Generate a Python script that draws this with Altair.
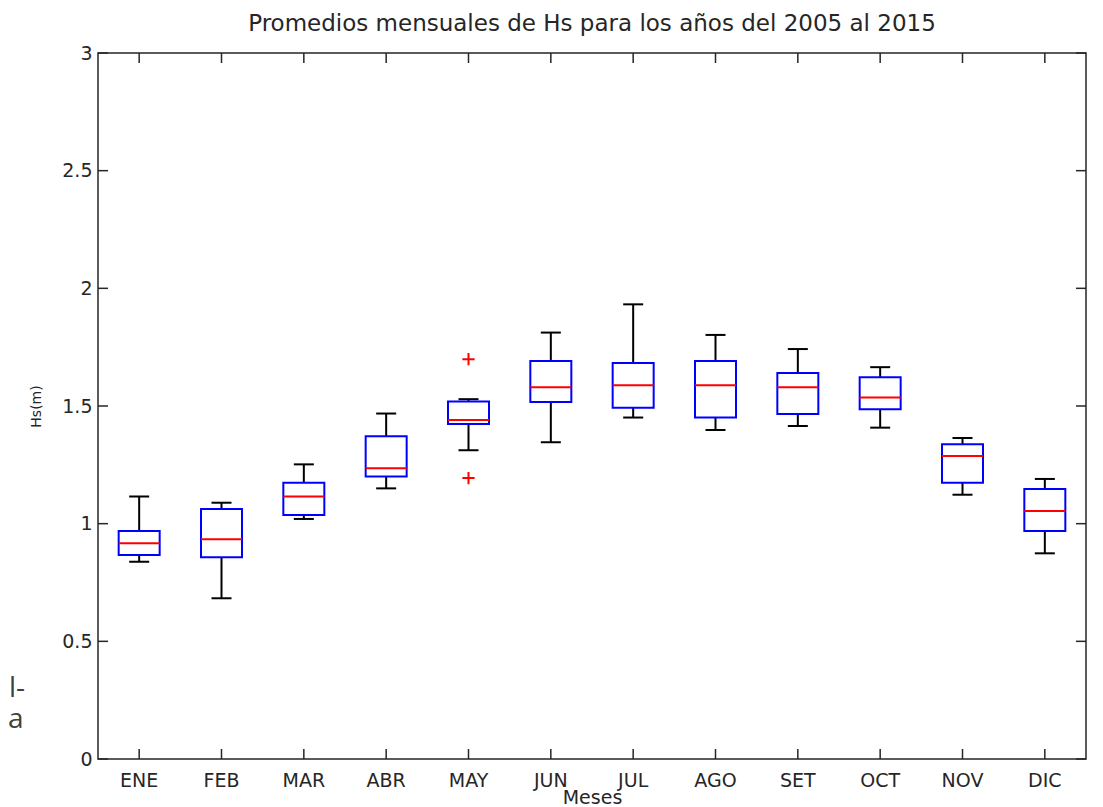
import altair as alt
import pandas as pd

# ---- data ----
months = ["ENE", "FEB", "MAR", "ABR", "MAY", "JUN", "JUL", "AGO", "SET", "OCT", "NOV", "DIC"]
whisker_low = [0.838, 0.683, 1.020, 1.150, 1.312, 1.346, 1.451, 1.398, 1.415, 1.408, 1.123, 0.874]
q1 = [0.867, 0.857, 1.037, 1.200, 1.424, 1.517, 1.493, 1.451, 1.466, 1.486, 1.174, 0.969]
median = [0.917, 0.934, 1.115, 1.235, 1.441, 1.580, 1.588, 1.588, 1.580, 1.536, 1.288, 1.054]
q3 = [0.969, 1.062, 1.174, 1.371, 1.519, 1.691, 1.683, 1.691, 1.640, 1.622, 1.337, 1.147]
whisker_high = [1.115, 1.089, 1.252, 1.468, 1.529, 1.812, 1.932, 1.802, 1.742, 1.665, 1.364, 1.190]
outlier_month = ["MAY", "MAY"]
outlier_value = [1.699, 1.194]
y_tick_values = [0, 0.5, 1, 1.5, 2, 2.5, 3]
title_text = "Promedios mensuales de Hs para los años del 2005 al 2015"
side_texts = ["l-", "a"]

df = pd.DataFrame(dict(month=months, low=whisker_low, q1=q1, med=median, q3=q3, high=whisker_high))
out_df = pd.DataFrame(dict(month=outlier_month, value=outlier_value))
yt_df = pd.DataFrame({"v": y_tick_values})
xt_df = pd.DataFrame({"month": months})

W, H = 988, 706
FONT = "DejaVu Sans"
TXT = "#262626"
TICK = 10
LW = 2

xscale = alt.Scale(domain=months, paddingInner=0, paddingOuter=0)
yscale = alt.Scale(domain=[0, 3], nice=False, zero=False)

x_axis = alt.Axis(title="Meses", labelAngle=0, ticks=False, tickSize=0, domain=False, grid=False,
                  labelFont=FONT, labelFontSize=19, labelColor=TXT, labelPadding=12,
                  titleFont=FONT, titleFontSize=19, titleFontWeight="normal", titleColor=TXT,
                  titlePadding=-2)
y_axis = alt.Axis(title="Hs(m)", values=y_tick_values, format=".1~f", ticks=False, tickSize=0,
                  domain=False, grid=False, labelFont=FONT, labelFontSize=19, labelColor=TXT,
                  labelPadding=6, titleFont=FONT, titleFontSize=14, titleFontWeight="normal",
                  titleColor=TXT, titlePadding=18)


def X(field="month"):
    return alt.X(f"{field}:N", scale=xscale, sort=months, axis=x_axis)


def Y(field):
    return alt.Y(f"{field}:Q", scale=yscale, axis=y_axis)


base = alt.Chart(df)

whisk_lo = base.mark_rule(color="black", strokeWidth=LW).encode(x=X(), y=Y("low"), y2="q1:Q")
whisk_hi = base.mark_rule(color="black", strokeWidth=LW).encode(x=X(), y=Y("q3"), y2="high:Q")
cap_lo = base.mark_tick(color="black", size=20, thickness=LW, opacity=1).encode(x=X(), y=Y("low"))
cap_hi = base.mark_tick(color="black", size=20, thickness=LW, opacity=1).encode(x=X(), y=Y("high"))
box = base.mark_bar(filled=False, color="blue", strokeWidth=LW, size=41, opacity=1).encode(
    x=X(), y=Y("q1"), y2="q3:Q")
med = base.mark_tick(color="red", size=41, thickness=LW, opacity=1).encode(x=X(), y=Y("med"))
outl = alt.Chart(out_df).mark_point(shape="M-1,0L1,0M0,-1L0,1", filled=False, color="red",
                                    size=150, strokeWidth=LW, opacity=1).encode(
    x=X(), y=Y("value"))

ytick_l = alt.Chart(yt_df).mark_rule(color=TXT, strokeWidth=1.5).encode(
    y=Y("v"), x=alt.value(0), x2=alt.value(TICK))
ytick_r = alt.Chart(yt_df).mark_rule(color=TXT, strokeWidth=1.5).encode(
    y=Y("v"), x=alt.value(W - TICK), x2=alt.value(W))
xtick_b = alt.Chart(xt_df).mark_rule(color=TXT, strokeWidth=1.5).encode(
    x=X(), y=alt.value(H - TICK), y2=alt.value(H))
xtick_t = alt.Chart(xt_df).mark_rule(color=TXT, strokeWidth=1.5).encode(
    x=X(), y=alt.value(0), y2=alt.value(TICK))

one = pd.DataFrame({"k": [0]})
side1 = alt.Chart(one).mark_text(text=side_texts[0], font="Open Sans", fontSize=28, color="#404040",
                                 align="left", baseline="alphabetic").encode(
    x=alt.value(-89), y=alt.value(644))
side2 = alt.Chart(one).mark_text(text=side_texts[1], font="Open Sans", fontSize=28, color="#404040",
                                 align="left", baseline="alphabetic").encode(
    x=alt.value(-90), y=alt.value(675))

chart = alt.layer(
    whisk_lo, whisk_hi, cap_lo, cap_hi, box, med, outl,
    ytick_l, ytick_r, xtick_b, xtick_t, side1, side2
).properties(
    width=W, height=H,
    title=alt.Title(title_text, font=FONT, fontSize=23, fontWeight="normal", color=TXT,
                    anchor="middle", offset=8),
    autosize=alt.AutoSizeParams(type="none"),
    padding={"left": 90, "top": 45, "right": 9, "bottom": 48},
    background="white",
).configure_view(stroke=TXT, strokeWidth=1.5)

chart.save("out.html", embed_options={"renderer": "svg", "actions": False})
